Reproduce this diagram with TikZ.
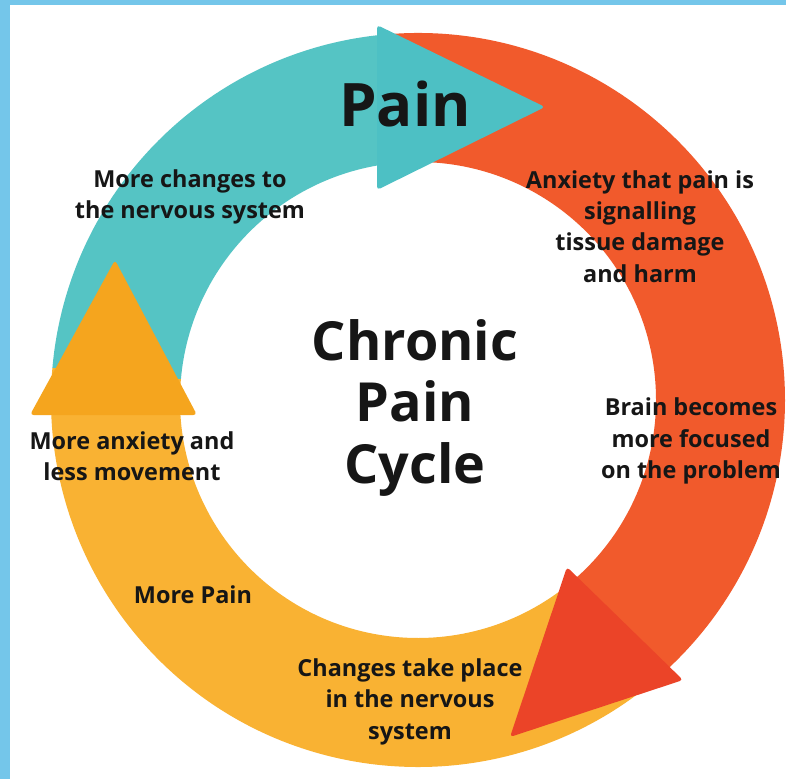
\documentclass[tikz,border=0pt]{standalone}
\usepackage{fontspec}
\setmainfont{Open Sans}
\usetikzlibrary{positioning}
\definecolor{cpteal}   {HTML}{55C4C4}
\definecolor{cptealhd} {HTML}{4DC0C4}
\definecolor{cporange} {HTML}{F15A2C}
\definecolor{cpred}    {HTML}{EB4428}
\definecolor{cpyellow} {HTML}{F9B233}
\definecolor{cpamber}  {HTML}{F5A51E}
\definecolor{cpframe}  {HTML}{74C6EA}
\definecolor{cpink}    {HTML}{161616}

\begin{document}
\begin{tikzpicture}[
  x=0.3mm, y=0.3mm,
  caption/.style={font=\bfseries\fontsize{20}{26.8}\selectfont, text=cpink,
                  align=center, inner sep=0pt},
  heading/.style={font=\bfseries\fontsize{46}{52.5}\selectfont, text=cpink,
                  align=center, inner sep=0pt},
  tip/.style={rounded corners=3pt}
]
\useasboundingbox (-418,-379) rectangle (368,400);
\fill[white] (-418,-379) rectangle (368,400);

% Frame
\fill[cpframe] (-418,-379) rectangle (-408,400);
\fill[cpframe] (-418,395) rectangle (368,400);

% Bands of the ring (outer 367, inner 238)
\fill[cpteal] (175:367) arc[start angle=175, end angle=95, radius=367]
  -- (95:238) arc[start angle=95, end angle=175, radius=238] -- cycle;
\fill[cporange] (95:367) arc[start angle=95, end angle=-49, radius=367]
  -- (-49:238) arc[start angle=-49, end angle=95, radius=238] -- cycle;
\fill[cpyellow] (-49:367) arc[start angle=-49, end angle=-185, radius=367]
  -- (-185:238) arc[start angle=-185, end angle=-49, radius=238] -- cycle;

% Arrow heads
\fill[cptealhd, tip] (-41,375) -- (127,293) -- (-41,210) -- cycle;
\fill[cpred, tip] (149,-167) -- (265,-280) -- (92,-337) -- cycle;
\fill[cpamber, tip] (-388,-15) -- (-303,140) -- (-221,-15) -- cycle;

% Titles
\node[heading, font=\bfseries\fontsize{51.2}{60}\selectfont] (pain) at (-13,296) {Pain};
\node[heading] (cycle) at (-3,-8) {Chronic\\Pain\\Cycle};

% Steps
\node[caption] (changes) at (-228,203) {More changes to\\the nervous system};
\node[caption] (anxiety) at (222,173.5) {Anxiety that pain is\\signalling\\tissue damage\\and harm};
\node[caption] (brain) at (273,-41.3) {Brain becomes\\more focused\\on the problem};
\node[caption] (system) at (-8,-301.7) {Changes take place\\in the nervous\\system};
\node[caption] (morepain) at (-225,-195) {More Pain};
\node[caption] (movement) at (-286,-56.5) {More anxiety and\\less movement};

\end{tikzpicture}
\end{document}
